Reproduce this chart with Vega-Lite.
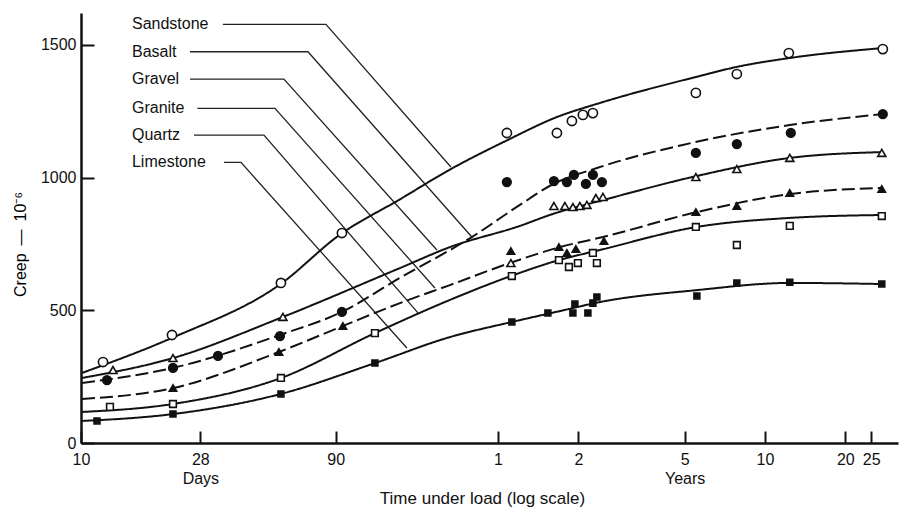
{
  "$schema": "https://vega.github.io/schema/vega-lite/v6.json",
  "width": 817,
  "height": 430,
  "autosize": {"type": "none"},
  "padding": {"left": 81, "top": 13, "right": 3, "bottom": 65},
  "background": "white",
  "config": {"view": {"stroke": null}, "font": "Liberation Sans"},
  "datasets": {
    "curves": [
      {"series": "Sandstone", "day": 10.09, "creep": 264},
      {"series": "Sandstone", "day": 21.92, "creep": 396},
      {"series": "Sandstone", "day": 56.11, "creep": 600},
      {"series": "Sandstone", "day": 93.33, "creep": 785},
      {"series": "Sandstone", "day": 156.6, "creep": 918},
      {"series": "Sandstone", "day": 241, "creep": 1030},
      {"series": "Sandstone", "day": 393.9, "creep": 1140},
      {"series": "Sandstone", "day": 606.6, "creep": 1228},
      {"series": "Sandstone", "day": 878.9, "creep": 1281},
      {"series": "Sandstone", "day": 2011, "creep": 1379},
      {"series": "Sandstone", "day": 2864, "creep": 1417},
      {"series": "Sandstone", "day": 4484, "creep": 1450},
      {"series": "Sandstone", "day": 10087, "creep": 1488},
      {"series": "Basalt", "day": 10.09, "creep": 226},
      {"series": "Basalt", "day": 22.11, "creep": 283},
      {"series": "Basalt", "day": 55.63, "creep": 407},
      {"series": "Basalt", "day": 94.95, "creep": 494},
      {"series": "Basalt", "day": 156.6, "creep": 622},
      {"series": "Basalt", "day": 291.3, "creep": 776},
      {"series": "Basalt", "day": 440.8, "creep": 897},
      {"series": "Basalt", "day": 586, "creep": 975},
      {"series": "Basalt", "day": 856.4, "creep": 1036},
      {"series": "Basalt", "day": 1797, "creep": 1123},
      {"series": "Basalt", "day": 4522, "creep": 1198},
      {"series": "Basalt", "day": 10087, "creep": 1239},
      {"series": "Gravel", "day": 10.09, "creep": 245},
      {"series": "Gravel", "day": 22.11, "creep": 320},
      {"series": "Gravel", "day": 57.08, "creep": 475},
      {"series": "Gravel", "day": 156.6, "creep": 659},
      {"series": "Gravel", "day": 241, "creep": 738},
      {"series": "Gravel", "day": 440.8, "creep": 818},
      {"series": "Gravel", "day": 586, "creep": 863},
      {"series": "Gravel", "day": 902, "creep": 915},
      {"series": "Gravel", "day": 2029, "creep": 1006},
      {"series": "Gravel", "day": 4522, "creep": 1074},
      {"series": "Gravel", "day": 10000, "creep": 1096},
      {"series": "Granite", "day": 10.09, "creep": 166},
      {"series": "Granite", "day": 22.11, "creep": 207},
      {"series": "Granite", "day": 55.15, "creep": 343},
      {"series": "Granite", "day": 95.78, "creep": 441},
      {"series": "Granite", "day": 156.6, "creep": 527},
      {"series": "Granite", "day": 241, "creep": 595},
      {"series": "Granite", "day": 404.3, "creep": 678},
      {"series": "Granite", "day": 622.5, "creep": 738},
      {"series": "Granite", "day": 902, "creep": 776},
      {"series": "Granite", "day": 2029, "creep": 870},
      {"series": "Granite", "day": 4522, "creep": 938},
      {"series": "Granite", "day": 10000, "creep": 961},
      {"series": "Quartz", "day": 10.09, "creep": 117},
      {"series": "Quartz", "day": 22.11, "creep": 147},
      {"series": "Quartz", "day": 56.11, "creep": 245},
      {"series": "Quartz", "day": 126.2, "creep": 414},
      {"series": "Quartz", "day": 241, "creep": 539},
      {"series": "Quartz", "day": 407.8, "creep": 629},
      {"series": "Quartz", "day": 617.2, "creep": 689},
      {"series": "Quartz", "day": 878.9, "creep": 727},
      {"series": "Quartz", "day": 2029, "creep": 814},
      {"series": "Quartz", "day": 4522, "creep": 848},
      {"series": "Quartz", "day": 10000, "creep": 859},
      {"series": "Limestone", "day": 10.09, "creep": 83},
      {"series": "Limestone", "day": 22.11, "creep": 109},
      {"series": "Limestone", "day": 56.11, "creep": 185},
      {"series": "Limestone", "day": 126.2, "creep": 301},
      {"series": "Limestone", "day": 241, "creep": 399},
      {"series": "Limestone", "day": 411.3, "creep": 456},
      {"series": "Limestone", "day": 622.5, "creep": 497},
      {"series": "Limestone", "day": 878.9, "creep": 531},
      {"series": "Limestone", "day": 2029, "creep": 576},
      {"series": "Limestone", "day": 4522, "creep": 603},
      {"series": "Limestone", "day": 10000, "creep": 599}
    ],
    "points": [
      {"series": "Sandstone", "day": 12.09, "creep": 305},
      {"series": "Sandstone", "day": 21.92, "creep": 407},
      {"series": "Sandstone", "day": 56.11, "creep": 603},
      {"series": "Sandstone", "day": 94.95, "creep": 791},
      {"series": "Sandstone", "day": 393.9, "creep": 1168},
      {"series": "Sandstone", "day": 606.6, "creep": 1168},
      {"series": "Sandstone", "day": 690.3, "creep": 1213},
      {"series": "Sandstone", "day": 759, "creep": 1236},
      {"series": "Sandstone", "day": 827.3, "creep": 1243},
      {"series": "Sandstone", "day": 2011, "creep": 1319},
      {"series": "Sandstone", "day": 2864, "creep": 1390},
      {"series": "Sandstone", "day": 4484, "creep": 1469},
      {"series": "Sandstone", "day": 10087, "creep": 1484},
      {"series": "Basalt", "day": 12.51, "creep": 237},
      {"series": "Basalt", "day": 22.11, "creep": 283},
      {"series": "Basalt", "day": 32.6, "creep": 328},
      {"series": "Basalt", "day": 55.63, "creep": 403},
      {"series": "Basalt", "day": 94.95, "creep": 494},
      {"series": "Basalt", "day": 393.9, "creep": 983},
      {"series": "Basalt", "day": 591.1, "creep": 987},
      {"series": "Basalt", "day": 661.2, "creep": 983},
      {"series": "Basalt", "day": 702.3, "creep": 1010},
      {"series": "Basalt", "day": 778.9, "creep": 976},
      {"series": "Basalt", "day": 827.3, "creep": 1010},
      {"series": "Basalt", "day": 894.2, "creep": 983},
      {"series": "Basalt", "day": 2011, "creep": 1093},
      {"series": "Basalt", "day": 2864, "creep": 1126},
      {"series": "Basalt", "day": 4562, "creep": 1168},
      {"series": "Basalt", "day": 10087, "creep": 1239},
      {"series": "Gravel", "day": 13.18, "creep": 275},
      {"series": "Gravel", "day": 22.11, "creep": 320},
      {"series": "Gravel", "day": 57.08, "creep": 475},
      {"series": "Gravel", "day": 407.8, "creep": 678},
      {"series": "Gravel", "day": 591.1, "creep": 893},
      {"series": "Gravel", "day": 649.9, "creep": 893},
      {"series": "Gravel", "day": 696.3, "creep": 889},
      {"series": "Gravel", "day": 739.6, "creep": 893},
      {"series": "Gravel", "day": 785.6, "creep": 897},
      {"series": "Gravel", "day": 849, "creep": 923},
      {"series": "Gravel", "day": 902, "creep": 927},
      {"series": "Gravel", "day": 2011, "creep": 1002},
      {"series": "Gravel", "day": 2864, "creep": 1032},
      {"series": "Gravel", "day": 4522, "creep": 1074},
      {"series": "Gravel", "day": 10000, "creep": 1093},
      {"series": "Granite", "day": 22.11, "creep": 207},
      {"series": "Granite", "day": 55.15, "creep": 343},
      {"series": "Granite", "day": 95.78, "creep": 441},
      {"series": "Granite", "day": 407.8, "creep": 723},
      {"series": "Granite", "day": 617.2, "creep": 738},
      {"series": "Granite", "day": 661.2, "creep": 716},
      {"series": "Granite", "day": 714.5, "creep": 731},
      {"series": "Granite", "day": 909.8, "creep": 761},
      {"series": "Granite", "day": 2011, "creep": 870},
      {"series": "Granite", "day": 2864, "creep": 893},
      {"series": "Granite", "day": 4522, "creep": 942},
      {"series": "Granite", "day": 10000, "creep": 957},
      {"series": "Quartz", "day": 12.84, "creep": 136},
      {"series": "Quartz", "day": 22.11, "creep": 147},
      {"series": "Quartz", "day": 56.11, "creep": 245},
      {"series": "Quartz", "day": 126.2, "creep": 414},
      {"series": "Quartz", "day": 411.3, "creep": 629},
      {"series": "Quartz", "day": 617.2, "creep": 689},
      {"series": "Quartz", "day": 672.7, "creep": 663},
      {"series": "Quartz", "day": 726.9, "creep": 678},
      {"series": "Quartz", "day": 827.3, "creep": 716},
      {"series": "Quartz", "day": 856.4, "creep": 678},
      {"series": "Quartz", "day": 2011, "creep": 814},
      {"series": "Quartz", "day": 2864, "creep": 746},
      {"series": "Quartz", "day": 4522, "creep": 818},
      {"series": "Quartz", "day": 10000, "creep": 855},
      {"series": "Limestone", "day": 11.48, "creep": 83},
      {"series": "Limestone", "day": 22.11, "creep": 109},
      {"series": "Limestone", "day": 56.11, "creep": 185},
      {"series": "Limestone", "day": 126.2, "creep": 301},
      {"series": "Limestone", "day": 411.3, "creep": 456},
      {"series": "Limestone", "day": 561.2, "creep": 490},
      {"series": "Limestone", "day": 696.3, "creep": 490},
      {"series": "Limestone", "day": 708.4, "creep": 524},
      {"series": "Limestone", "day": 792.4, "creep": 490},
      {"series": "Limestone", "day": 827.3, "creep": 527},
      {"series": "Limestone", "day": 856.4, "creep": 550},
      {"series": "Limestone", "day": 2029, "creep": 554},
      {"series": "Limestone", "day": 2864, "creep": 603},
      {"series": "Limestone", "day": 4522, "creep": 606},
      {"series": "Limestone", "day": 10000, "creep": 599}
    ],
    "leaders": [
      {"label": "Sandstone", "o": 1, "day": 34.0, "creep": 1577},
      {"label": "Sandstone", "o": 2, "day": 82.73, "creep": 1577},
      {"label": "Sandstone", "o": 3, "day": 243.1, "creep": 1040},
      {"label": "Basalt", "o": 1, "day": 25.62, "creep": 1474},
      {"label": "Basalt", "o": 2, "day": 70.84, "creep": 1474},
      {"label": "Basalt", "o": 3, "day": 291.3, "creep": 776},
      {"label": "Gravel", "o": 1, "day": 25.62, "creep": 1371},
      {"label": "Gravel", "o": 2, "day": 57.57, "creep": 1371},
      {"label": "Gravel", "o": 3, "day": 215.4, "creep": 727},
      {"label": "Granite", "o": 1, "day": 27.3, "creep": 1261},
      {"label": "Granite", "o": 2, "day": 53.28, "creep": 1261},
      {"label": "Granite", "o": 3, "day": 211.8, "creep": 584},
      {"label": "Quartz", "o": 1, "day": 26.5, "creep": 1160},
      {"label": "Quartz", "o": 2, "day": 48.46, "creep": 1160},
      {"label": "Quartz", "o": 3, "day": 182.9, "creep": 490},
      {"label": "Limestone", "o": 1, "day": 34.32, "creep": 1057},
      {"label": "Limestone", "o": 2, "day": 39.76, "creep": 1057},
      {"label": "Limestone", "o": 3, "day": 166.3, "creep": 358}
    ],
    "labels": [
      {"label": "Sandstone", "day": 15.52, "creep": 1577},
      {"label": "Basalt", "day": 15.52, "creep": 1474},
      {"label": "Gravel", "day": 15.52, "creep": 1371},
      {"label": "Granite", "day": 15.52, "creep": 1261},
      {"label": "Quartz", "day": 15.52, "creep": 1160},
      {"label": "Limestone", "day": 15.52, "creep": 1057}
    ]
  },
  "encoding": {
    "x": {
      "field": "day",
      "type": "quantitative",
      "scale": {"type": "log", "domain": [10, 11500], "nice": false, "zero": false},
      "axis": {
        "title": "Time under load (log scale)",
        "values": [10, 28, 90, 365, 730, 1825, 3650, 7300, 9125],
        "labelExpr": "datum.value == 28 ? ['28', 'Days'] : datum.value == 90 ? '90' : datum.value == 365 ? '1' : datum.value == 730 ? '2' : datum.value == 1825 ? ['5', 'Years'] : datum.value == 3650 ? '10' : datum.value == 7300 ? '20' : datum.value == 9125 ? '25' : '10'",
        "grid": false,
        "tickSize": -12,
        "tickWidth": 2,
        "tickColor": "#111",
        "domainWidth": 2.5,
        "domainColor": "#111",
        "labelPadding": 20,
        "labelFontSize": 16,
        "labelColor": "#111",
        "labelOverlap": false,
        "labelBound": false,
        "labelFlush": false,
        "labelLineHeight": 19,
        "titleFontSize": 17,
        "titleFontWeight": "normal",
        "titleColor": "#111",
        "titleX": 401,
        "titleY": 55,
        "titleBaseline": "middle",
        "titleAlign": "center"
      }
    },
    "y": {
      "field": "creep",
      "type": "quantitative",
      "scale": {"domain": [0, 1620], "nice": false},
      "axis": {
        "title": "Creep\u2002\u2014\u200210\u207b\u2076",
        "format": "d",
        "values": [0, 500, 1000, 1500],
        "grid": false,
        "tickSize": -13,
        "tickWidth": 2,
        "tickColor": "#111",
        "domainWidth": 2.5,
        "domainColor": "#111",
        "labelPadding": 18,
        "labelFontSize": 16,
        "labelColor": "#111",
        "titleFontSize": 16,
        "titleFontWeight": "normal",
        "titleColor": "#000000",
        "titleX": -61,
        "titleY": 231,
        "titleAngle": -90,
        "titleBaseline": "middle",
        "titleAlign": "center"
      }
    }
  },
  "layer": [
    {
      "data": {"name": "leaders"},
      "mark": {"type": "line", "stroke": "#222", "strokeWidth": 1.3},
      "encoding": {"detail": {"field": "label", "type": "nominal"}, "order": {"field": "o", "type": "quantitative"}}
    },
    {
      "data": {"name": "curves"},
      "mark": {"type": "line", "stroke": "#111", "strokeWidth": 2, "interpolate": "monotone"},
      "encoding": {
        "strokeDash": {
          "field": "series",
          "type": "nominal",
          "scale": {
            "domain": ["Sandstone", "Basalt", "Gravel", "Granite", "Quartz", "Limestone"],
            "range": [[1, 0], [13, 5], [1, 0], [13, 5], [1, 0], [1, 0]]
          },
          "legend": null
        }
      }
    },
    {
      "data": {"name": "points"},
      "mark": {"type": "point", "filled": true, "stroke": "#111", "strokeWidth": 1.6, "opacity": 1},
      "encoding": {
        "shape": {
          "field": "series",
          "type": "nominal",
          "scale": {
            "domain": ["Sandstone", "Basalt", "Gravel", "Granite", "Quartz", "Limestone"],
            "range": ["circle", "circle", "triangle-up", "triangle-up", "square", "square"]
          },
          "legend": null
        },
        "fill": {
          "field": "series",
          "type": "nominal",
          "scale": {
            "domain": ["Sandstone", "Basalt", "Gravel", "Granite", "Quartz", "Limestone"],
            "range": ["white", "#111", "white", "#111", "white", "#111"]
          },
          "legend": null
        },
        "size": {
          "field": "series",
          "type": "nominal",
          "scale": {
            "domain": ["Sandstone", "Basalt", "Gravel", "Granite", "Quartz", "Limestone"],
            "range": [85, 35, 70, 28, 60, 45]
          },
          "legend": null
        }
      }
    },
    {
      "data": {"name": "labels"},
      "mark": {"type": "text", "align": "left", "baseline": "middle", "fontSize": 16, "color": "#111"},
      "encoding": {"text": {"field": "label", "type": "nominal"}}
    }
  ]
}
